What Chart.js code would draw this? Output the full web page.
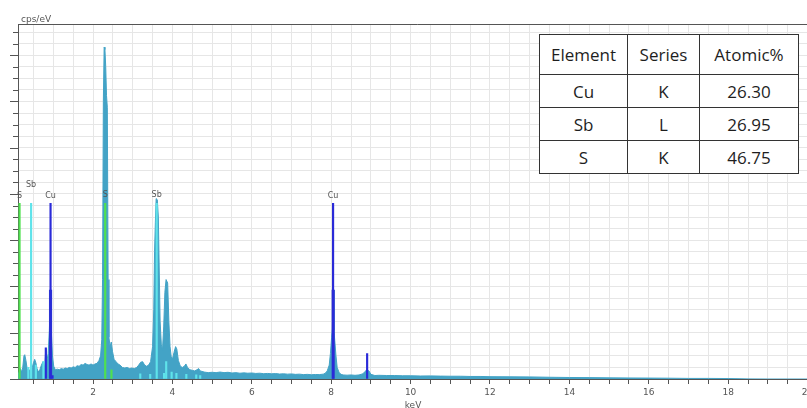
<!DOCTYPE html>
<html>
<head>
<meta charset="utf-8">
<script src="https://cdn.jsdelivr.net/npm/chart.js@4.4.1/dist/chart.umd.min.js"></script>
<style>
  html, body { margin: 0; padding: 0; background: #fff; overflow: hidden; }
  #wrap { position: relative; width: 807px; height: 408px; overflow: hidden; }
  #chart { position: absolute; left: 0; top: 0; }
  #table { position: absolute; left: 539px; top: 34px; border-collapse: collapse; background: #fff;
           font-family: 'Open Sans', sans-serif; font-size: 17px; color: #1e1e1e; }
  #table td { border: 1.5px solid #333; text-align: center; padding: 0; }
</style>
</head>
<body>
<div id="wrap">
  <canvas id="chart" width="830" height="408"></canvas>
  <table id="table"></table>
</div>
<script>
    // 能谱数据 (keV / cps/eV 相对单位)
    const energy = [
        0.11, 0.14, 0.17, 0.20, 0.23, 0.26, 0.28, 0.31, 0.34, 0.37, 0.40, 0.43, 0.46, 0.50, 0.53, 0.56, 0.59, 0.62, 0.66, 0.70,
        0.74, 0.78, 0.81, 0.84, 0.87, 0.90, 0.93, 0.95, 0.98, 1.01, 1.05, 1.10, 1.15, 1.20, 1.25, 1.30, 1.35, 1.40, 1.45, 1.50,
        1.55, 1.60, 1.65, 1.70, 1.75, 1.80, 1.85, 1.90, 1.95, 2.00, 2.05, 2.10, 2.15, 2.19, 2.22, 2.24, 2.26, 2.28, 2.30, 2.32,
        2.34, 2.36, 2.38, 2.40, 2.43, 2.46, 2.49, 2.53, 2.58, 2.63, 2.68, 2.74, 2.80, 2.86, 2.92, 2.98, 3.04, 3.10, 3.15, 3.20,
        3.25, 3.30, 3.35, 3.40, 3.45, 3.50, 3.53, 3.55, 3.57, 3.59, 3.62, 3.645, 3.67, 3.69, 3.72, 3.75, 3.78, 3.81, 3.84, 3.88,
        3.91, 3.94, 3.97, 4.00, 4.04, 4.08, 4.11, 4.15, 4.20, 4.25, 4.30, 4.34, 4.38, 4.44, 4.50, 4.56, 4.62, 4.66, 4.70, 4.80,
        4.90, 5.00, 5.10, 5.20, 5.30, 5.40, 5.50, 5.60, 5.70, 5.80, 5.90, 6.00, 6.10, 6.20, 6.30, 6.40, 6.50, 6.60, 6.70, 6.80,
        6.90, 7.00, 7.10, 7.20, 7.30, 7.40, 7.50, 7.60, 7.70, 7.80, 7.85, 7.90, 7.95, 7.98, 8.01, 8.03, 8.05, 8.07, 8.09, 8.12,
        8.15, 8.20, 8.25, 8.30, 8.40, 8.50, 8.60, 8.70, 8.80, 8.85, 8.90, 8.95, 9.00, 9.10, 9.20, 9.40, 9.60, 9.80, 10.00, 10.25,
        10.50, 10.75, 11.00, 11.25, 11.50, 11.75, 12.00, 12.50, 13.00, 13.50, 14.00, 14.50, 15.00, 15.50, 16.00, 16.50, 17.00, 17.50, 18.00, 18.50,
        19.00, 20.25
    ];
    const counts = [
        0.4, 0.6, 0.9, 0.6, 1.0, 2.0, 2.1, 1.6, 0.9, 0.6, 0.8, 0.6, 0.9, 1.4, 1.7, 1.4, 0.9, 0.6, 0.8, 1.2,
        1.5, 1.0, 2.6, 1.6, 2.2, 4.2, 7.7, 4.1, 1.9, 1.1, 0.8, 0.85, 0.8, 0.9, 0.85, 0.95, 0.9, 1.0, 0.95, 1.05,
        1.0, 1.15, 1.1, 1.25, 1.2, 1.35, 1.25, 1.2, 1.3, 1.2, 1.3, 1.35, 1.6, 2.0, 3.4, 8.6, 24.0, 28.7, 28.5, 27.0,
        24.5, 23.5, 8.6, 3.6, 2.8, 3.2, 2.4, 1.7, 1.5, 1.3, 1.2, 1.0, 0.95, 1.0, 0.9, 0.95, 0.9, 1.0, 1.2, 1.45,
        1.5, 1.2, 1.1, 1.2, 1.5, 2.8, 6.0, 11.0, 13.5, 15.6, 15.5, 14.0, 9.0, 5.0, 3.0, 2.5, 4.5, 7.5, 8.6, 8.3,
        5.0, 2.8, 1.9, 1.7, 2.3, 2.8, 2.6, 1.6, 1.1, 1.0, 1.1, 1.3, 1.0, 0.8, 0.75, 0.7, 0.8, 0.9, 0.7, 0.6,
        0.55, 0.58, 0.55, 0.6, 0.55, 0.58, 0.52, 0.55, 0.5, 0.53, 0.5, 0.52, 0.48, 0.5, 0.46, 0.48, 0.45, 0.47, 0.43, 0.45,
        0.42, 0.44, 0.4, 0.42, 0.38, 0.4, 0.37, 0.39, 0.38, 0.42, 0.5, 0.7, 1.2, 2.2, 3.6, 4.3, 7.7, 4.2, 3.3, 2.0,
        1.0, 0.55, 0.4, 0.35, 0.33, 0.35, 0.32, 0.35, 0.45, 0.65, 0.8, 0.7, 0.4, 0.3, 0.32, 0.3, 0.3, 0.28, 0.28, 0.26,
        0.27, 0.25, 0.24, 0.24, 0.22, 0.22, 0.2, 0.19, 0.18, 0.15, 0.13, 0.12, 0.1, 0.09, 0.08, 0.07, 0.05, 0.05, 0.04, 0.01,
        0, 0
    ];

    // 元素谱线标记
    const sLines = [0.149, 2.307, 2.464];
    const sHeights = [15.2, 15.2, 0.8];
    const sbLines = [0.37, 0.44, 0.56, 0.75, 3.19, 3.44, 3.604, 3.79, 3.843, 3.98, 4.10, 4.35, 4.60, 4.70];
    const sbHeights = [1.0, 15.2, 1.2, 1.5, 0.45, 0.4, 15.2, 0.5, 1.5, 0.6, 0.5, 0.4, 0.35, 0.3];
    const cuLines = [0.811, 0.93, 0.98, 8.047, 8.905];
    const cuHeights = [2.7, 15.2, 0.3, 15.2, 2.2];
    const cuFitLines = [0.93, 8.05];
    const cuFitHeights = [7.7, 7.7];

    const peakLabels = ['S', 'Sb', 'Cu', 'S', 'Sb', 'Cu'];
    const labelEnergy = [0.149, 0.44, 0.93, 2.307, 3.604, 8.047];
    const labelLevel = [15.86, 16.81, 15.86, 15.9, 15.9, 15.86];

    // 定量结果表
    const tableHeader = ['Element', 'Series', 'Atomic%'];
    const tableElements = ['Cu', 'Sb', 'S'];
    const tableSeries = ['K', 'L', 'K'];
    const tableAtomic = ['26.30', '26.95', '46.75'];

    const toPoints = (xs, ys) => xs.map((x, i) => ({ x: x, y: ys[i] }));

    function buildTable() {
        const table = document.getElementById('table');
        const widths = [87, 71, 98];
        const rows = [tableHeader];
        tableElements.forEach((el, i) => rows.push([el, tableSeries[i], tableAtomic[i]]));
        rows.forEach((row, r) => {
            const tr = document.createElement('tr');
            tr.style.height = (r === 0 ? 40 : 33) + 'px';
            row.forEach((text, c) => {
                const td = document.createElement('td');
                td.textContent = text;
                td.style.width = widths[c] + 'px';
                tr.appendChild(td);
            });
            table.appendChild(tr);
        });
    }

    // 自定义绘制：y轴刻度、顶部边框、谱线标签、坐标单位
    const decorPlugin = {
        id: 'decor',
        afterDraw(chart) {
            const ctx = chart.ctx;
            const area = chart.chartArea;
            const xs = chart.scales.x;
            const ys = chart.scales.y;
            ctx.save();
            ctx.strokeStyle = '#555';
            ctx.lineWidth = 1;
            ctx.beginPath();
            ctx.moveTo(area.left, area.top + 0.5);
            ctx.lineTo(area.right, area.top + 0.5);
            ys.ticks.forEach(t => {
                const y = Math.round(ys.getPixelForValue(t.value)) + 0.5;
                const len = t.value % 4 === 0 ? 8 : 5;
                ctx.moveTo(area.left - len, y);
                ctx.lineTo(area.left, y);
            });
            ctx.stroke();

            ctx.fillStyle = '#555';
            ctx.font = '8px "DejaVu Sans"';
            ctx.textAlign = 'center';
            ctx.textBaseline = 'middle';
            peakLabels.forEach((lab, i) => {
                ctx.fillText(lab, xs.getPixelForValue(labelEnergy[i]), ys.getPixelForValue(labelLevel[i]));
            });

            ctx.font = '9px "DejaVu Sans"';
            ctx.textBaseline = 'alphabetic';
            ctx.textAlign = 'left';
            ctx.fillText('cps/eV', 21, 22);
            ctx.textAlign = 'center';
            ctx.fillText('keV', 413, 408);
            ctx.restore();
        }
    };

    function drawChart() {
        const ctx = document.getElementById('chart').getContext('2d');
        const markerBar = (data, color, thickness, order) => ({
            type: 'bar',
            data: data,
            backgroundColor: color,
            borderWidth: 0,
            barThickness: thickness,
            grouped: false,
            order: order
        });
        new Chart(ctx, {
            type: 'line',
            data: {
                datasets: [
                    markerBar(toPoints(sLines, sHeights), '#4fe04f', 1.5, 0),
                    markerBar(toPoints(sbLines, sbHeights), '#5fe3ea', 1.5, 0),
                    markerBar(toPoints(cuLines, cuHeights), '#2a2ad8', 1.5, 0),
                    markerBar(toPoints(cuFitLines, cuFitHeights), '#2f3fd0', 2.5, 1),
                    {
                        label: 'spectrum',
                        data: toPoints(energy, counts),
                        borderColor: '#43a3c6',
                        backgroundColor: '#43a3c6',
                        borderWidth: 1,
                        pointRadius: 0,
                        tension: 0,
                        fill: 'origin',
                        order: 2
                    }
                ]
            },
            options: {
                responsive: false,
                animation: false,
                events: [],
                layout: { padding: { left: 18, top: 24, right: 12.5, bottom: 0 } },
                plugins: { legend: { display: false }, tooltip: { enabled: false } },
                scales: {
                    x: {
                        type: 'linear',
                        min: 0.11,
                        max: 20.25,
                        offset: false,
                        afterFit: s => { s.height = 29; },
                        grid: { color: '#e6e6e6', tickColor: '#555', tickLength: 5, offset: false },
                        border: { color: '#555', width: 1 },
                        ticks: {
                            stepSize: 0.5,
                            includeBounds: false,
                            autoSkip: false,
                            maxRotation: 0,
                            padding: 3,
                            color: '#555',
                            font: { family: 'DejaVu Sans', size: 9 },
                            callback: v => (v % 2 === 0 ? String(v) : '')
                        }
                    },
                    y: {
                        min: 0,
                        max: 30.7,
                        afterFit: s => { s.width = 0; },
                        grid: { color: '#e6e6e6', drawTicks: false },
                        border: { color: '#555', width: 1 },
                        ticks: { stepSize: 1, includeBounds: false, display: false }
                    }
                }
            },
            plugins: [decorPlugin]
        });
    }

    window.addEventListener('DOMContentLoaded', function() {
        buildTable();
        drawChart();
    });
</script>
</body>
</html>
